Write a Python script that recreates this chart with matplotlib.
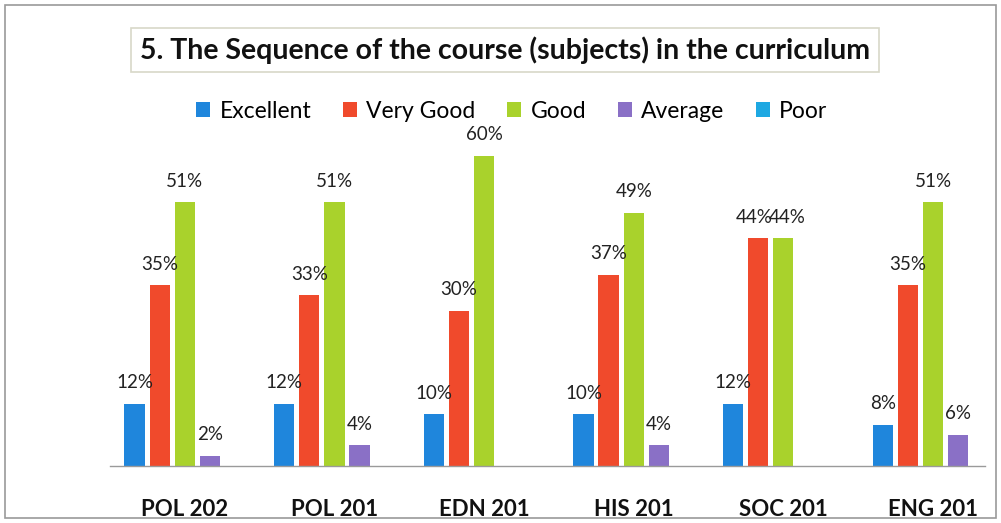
import numpy as np
import matplotlib.pyplot as plt
from matplotlib.patches import Rectangle

# data
courses = ['POL 202', 'POL 201', 'EDN 201', 'HIS 201', 'SOC 201', 'ENG 201']
ratings = ['Excellent', 'Very Good', 'Good', 'Average', 'Poor']
excellent = [12, 12, 10, 10, 12, 8]
very_good = [35, 33, 30, 37, 44, 35]
good = [51, 51, 60, 49, 44, 51]
average = [2, 4, 0, 4, 0, 6]
poor = [0, 0, 0, 0, 0, 0]

series = [excellent, very_good, good, average, poor]
colors = ['#1f86dc', '#f04a2c', '#a9d22c', '#8a70c6', '#1ea8e2']

plt.rcParams['font.family'] = ['Lato', 'DejaVu Sans']

fig = plt.figure(figsize=(10.01, 5.23), dpi=100)

# axes: baseline at y=466px, left 110px, right 985px
W, H = 1001, 523
ax = fig.add_axes([110 / W, 57 / H, (985 - 110) / W, (466 - 104) / H])

x = np.arange(len(courses))
step = 0.168
bw = 0.135
for i, (vals, col, name) in enumerate(zip(series, colors, ratings)):
    pos = x + (i - 2) * step
    bars = ax.bar(pos, vals, width=bw, color=col, label=name, zorder=2)
    for j, (b, v) in enumerate(zip(bars, vals)):
        if v > 0:
            # the two 44% labels of SOC 201 sit almost on top of each other
            dx = 0
            if j == 4 and i == 1:
                dx = -3
            elif j == 4 and i == 2:
                dx = 3
            ax.annotate(f'{v}%', (b.get_x() + b.get_width() / 2, v),
                        xytext=(dx, 9), textcoords='offset points',
                        ha='center', va='bottom', fontsize=13.5, color='#222222')

ax.set_xlim(-0.5, (985 - 185) / 149.6)
ax.set_ylim(0, 70)
ax.set_yticks([])
ax.set_xticks([])
for s in ['top', 'right', 'left']:
    ax.spines[s].set_visible(False)
ax.spines['bottom'].set_color('#9a9a9a')
ax.spines['bottom'].set_linewidth(1.0)

# category labels
for xi, c in zip(x, courses):
    ax.text(xi, -0.12, c, transform=ax.get_xaxis_transform(),
            ha='center', va='center', fontsize=16, fontweight='bold', color='#111111')

# legend
ax.legend(loc='center', bbox_to_anchor=(512 / W, 1 - 111 / H), bbox_transform=fig.transFigure,
          ncol=5, frameon=False, fontsize=16.5, handlelength=0.6, handleheight=0.6,
          handletextpad=0.4, columnspacing=1.4)

# title in a box
fig.text(505 / W, 1 - 50 / H, '5. The Sequence of the course (subjects) in the curriculum',
         ha='center', va='center', fontsize=20.5, fontweight='bold', color='#111111',
         bbox=dict(boxstyle='square,pad=0.3', fc='white', ec='#d8d8c8', lw=1.2))

# outer frame
fig.patches.append(Rectangle((5 / W, 5 / H), 991 / W, 513 / H, transform=fig.transFigure,
                             fill=False, ec='#9a9a9a', lw=1.2))

fig.savefig('out.png', dpi=100)
